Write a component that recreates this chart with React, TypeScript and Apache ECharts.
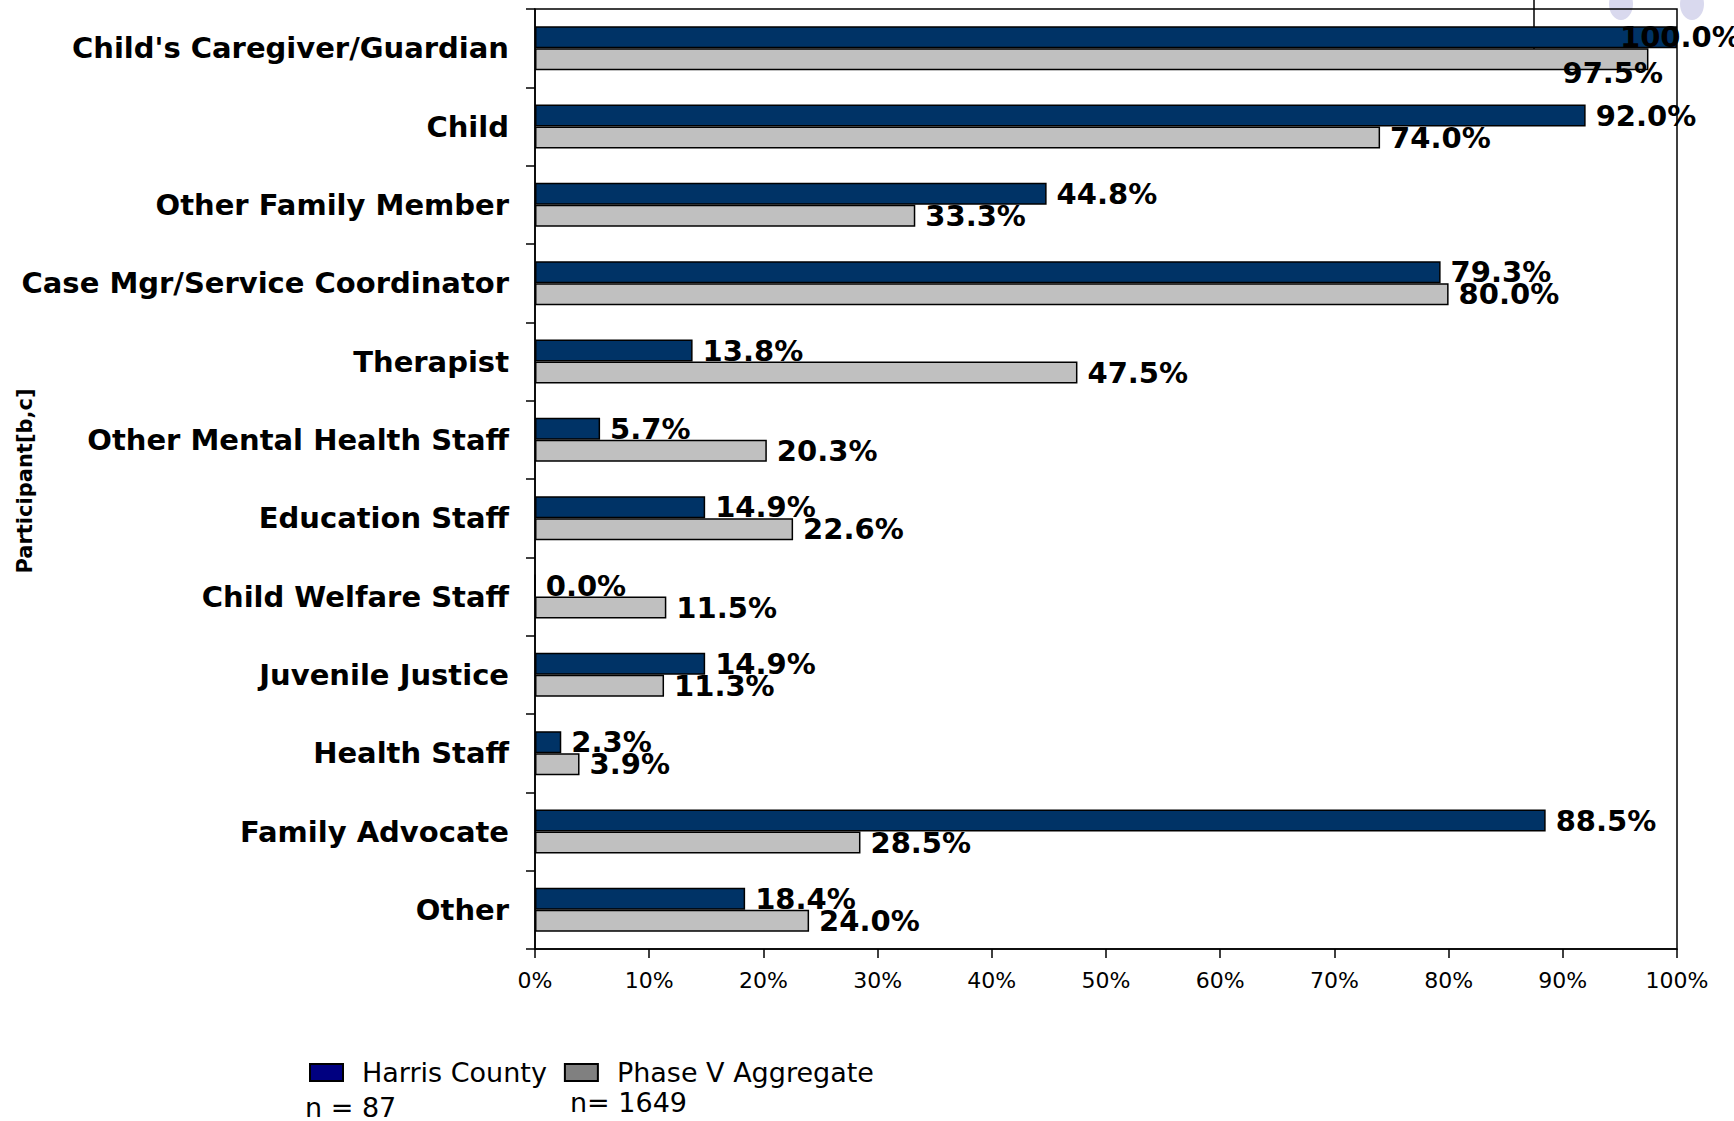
import React, { useEffect, useRef } from "react";
import * as echarts from "echarts";

const categories = [
  "Child's Caregiver/Guardian",
  "Child",
  "Other Family Member",
  "Case Mgr/Service Coordinator",
  "Therapist",
  "Other Mental Health Staff",
  "Education Staff",
  "Child Welfare Staff",
  "Juvenile Justice",
  "Health Staff",
  "Family Advocate",
  "Other",
];
const harrisCounty = [100.0, 92.0, 44.8, 79.3, 13.8, 5.7, 14.9, 0.0, 14.9, 2.3, 88.5, 18.4];
const phaseVAggregate = [97.5, 74.0, 33.3, 80.0, 47.5, 20.3, 22.6, 11.5, 11.3, 3.9, 28.5, 24.0];
const seriesNames = ["Harris County", "Phase V Aggregate"];
const sampleSizes = ["n = 87", "n= 1649"];
const axisMin = 0;
const axisMax = 100;
const axisStep = 10;
const axisTitle = "Participant[b,c]";

const FONT = "DejaVu Sans";

// label nudges (style only) for crowded labels at the right edge
const harrisLabelNudge: Record<number, number[]> = { 0: [-67, 0] };
const phaseLabelNudge: Record<number, number[]> = { 0: [-96, 14] };

function buildData(values: number[], nudge: Record<number, number[]>) {
  return values.map((v, i) =>
    nudge[i] ? { value: v, label: { offset: nudge[i] } } : { value: v }
  );
}

export default function App() {
  const ref = useRef<HTMLDivElement>(null);
  useEffect(() => {
    if (!ref.current) return;
    const chart = echarts.init(ref.current, null, { renderer: "svg" });
    const labelStyle = {
      show: true,
      position: "right" as const,
      distance: 10,
      color: "#000",
      fontFamily: FONT,
      fontWeight: "bold" as const,
      fontSize: 29,
      formatter: (p: any) => Number(p.value).toFixed(1) + "%",
    };
    chart.setOption({
      animation: false,
      backgroundColor: "#fff",
      grid: {
        left: 535,
        right: 57,
        top: 9,
        bottom: 172,
        containLabel: false,
        outerBoundsMode: "none",
        show: true,
        borderColor: "#000",
        borderWidth: 1.5,
        backgroundColor: "transparent",
      },
      xAxis: {
        type: "value",
        min: axisMin,
        max: axisMax,
        interval: axisStep,
        axisLine: { show: true, lineStyle: { color: "#000", width: 1.5 } },
        axisTick: { show: true, length: 9, lineStyle: { color: "#000", width: 1.5 } },
        splitLine: { show: false },
        axisLabel: {
          formatter: "{value}%",
          color: "#000",
          fontFamily: FONT,
          fontSize: 22,
          margin: 20,
        },
      },
      yAxis: {
        type: "category",
        data: categories,
        inverse: true,
        axisLine: { show: true, lineStyle: { color: "#000", width: 1.5 } },
        axisTick: { show: true, length: 9, lineStyle: { color: "#000", width: 1.5 } },
        axisLabel: {
          color: "#000",
          fontFamily: FONT,
          fontWeight: "bold",
          fontSize: 29,
          margin: 26,
        },
      },
      legend: {
        left: 304,
        top: 1054,
        itemWidth: 33,
        itemHeight: 17,
        itemGap: 17,
        selectedMode: false,
        textStyle: {
          fontFamily: FONT,
          fontSize: 27,
          color: "#000",
          padding: [0, 0, 0, 14],
        },
        data: [
          {
            name: seriesNames[0],
            icon: "rect",
            itemStyle: { color: "#000080", borderColor: "#000", borderWidth: 2 },
          },
          {
            name: seriesNames[1],
            icon: "rect",
            itemStyle: { color: "#808080", borderColor: "#000", borderWidth: 2 },
          },
        ],
      },
      graphic: [
        {
          type: "line",
          z: -1,
          shape: { x1: 1534, y1: 0, x2: 1534, y2: 70 },
          style: { stroke: "#000", lineWidth: 1.5 },
        },
        {
          type: "ellipse",
          z: -1,
          shape: { cx: 1621, cy: 4, rx: 12, ry: 16 },
          style: { fill: "#D9D9EE" },
        },
        {
          type: "ellipse",
          z: -1,
          shape: { cx: 1692, cy: 4, rx: 12, ry: 16 },
          style: { fill: "#D9D9EE" },
        },
        {
          type: "text",
          x: 25,
          y: 481,
          rotation: Math.PI / 2,
          style: {
            text: axisTitle,
            font: `bold 21px '${FONT}'`,
            fill: "#000",
            align: "center",
            verticalAlign: "middle",
          },
        },
        {
          type: "text",
          left: 305,
          top: 1094,
          style: { text: sampleSizes[0], font: `27px '${FONT}'`, fill: "#000" },
        },
        {
          type: "text",
          left: 570,
          top: 1089,
          style: { text: sampleSizes[1], font: `27px '${FONT}'`, fill: "#000" },
        },
      ],
      series: [
        {
          name: seriesNames[0],
          type: "bar",
          barWidth: 22,
          barGap: "0%",
          data: buildData(harrisCounty, harrisLabelNudge),
          itemStyle: { color: "#003366", borderColor: "#000", borderWidth: 1.5 },
          label: labelStyle,
        },
        {
          name: seriesNames[1],
          type: "bar",
          barWidth: 22,
          barGap: "0%",
          data: buildData(phaseVAggregate, phaseLabelNudge),
          itemStyle: { color: "#C0C0C0", borderColor: "#000", borderWidth: 1.5 },
          label: labelStyle,
        },
      ],
    });
    return () => chart.dispose();
  }, []);
  return (
    <div
      ref={ref}
      style={{ position: "fixed", left: 0, top: 0, width: 1734, height: 1121 }}
    />
  );
}
